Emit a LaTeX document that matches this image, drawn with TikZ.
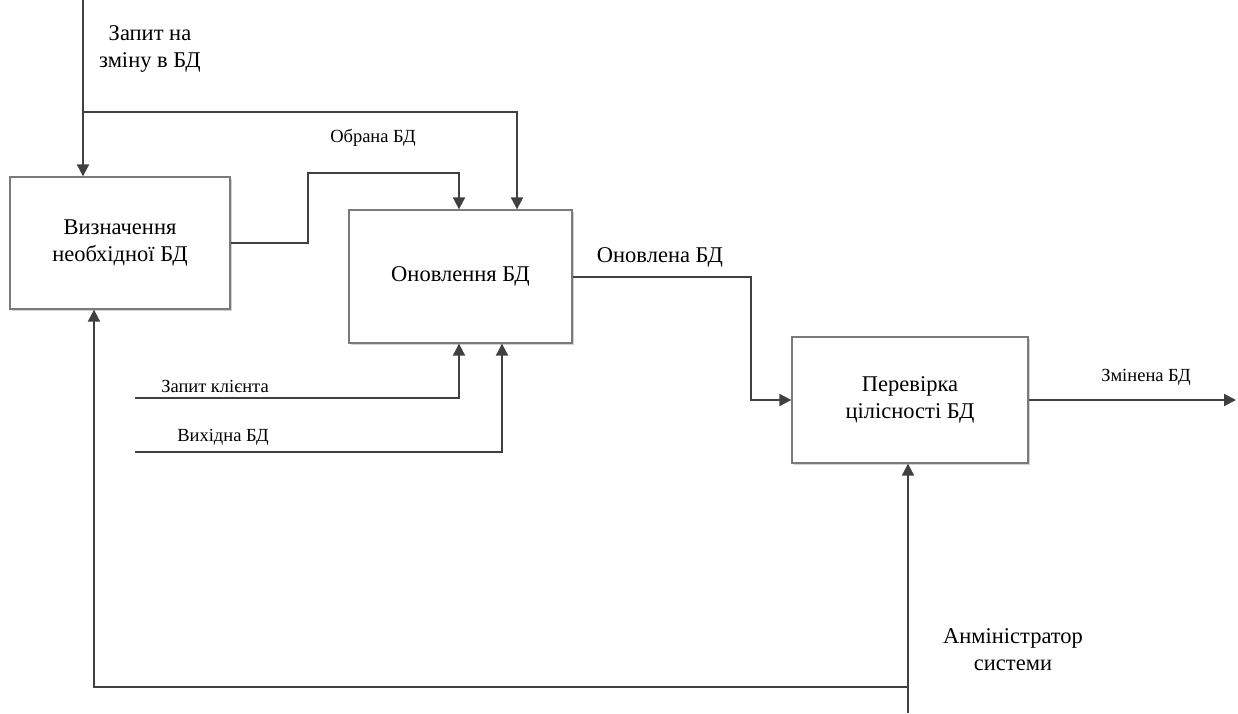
\documentclass[tikz,border=0pt]{standalone}
\usepackage{fontspec}
\setmainfont{Liberation Serif}
\usetikzlibrary{arrows.meta,shadows}
\definecolor{linec}{HTML}{404040}
\definecolor{boxc}{HTML}{7A7A7A}
\tikzset{
  procbox/.style={draw=boxc, line width=1.3pt, fill=white, minimum width=#1, align=center,
    font=\fontsize{22.5}{27}\selectfont,
    drop shadow={shadow xshift=2pt, shadow yshift=-2pt, fill=black!18, opacity=1}},
  flow/.style={draw=linec, line width=2pt, -{Triangle[length=12pt,width=12pt]}},
  biglabel/.style={align=center, font=\fontsize{22.5}{27}\selectfont},
  smalllabel/.style={font=\fontsize{18.5}{22}\selectfont},
}
\begin{document}
\begin{tikzpicture}[x=1pt,y=-1pt]
\useasboundingbox (0,0) rectangle (1238,713);

% activity boxes
\node[procbox=220pt, minimum height=132pt] (A) at (120,243) {Визначення\\необхідної БД};
\node[procbox=223pt, minimum height=133pt] (B) at (460.5,276.5) {Оновлення БД};
\node[procbox=236pt, minimum height=126pt] (C) at (910,400) {Перевірка\\цілісності БД};

% free ends and junctions
\coordinate (topIn) at (83,0);
\coordinate (split) at (83,112);
\coordinate (cliIn) at (135,398);
\coordinate (dbIn) at (135,452);
\coordinate (admIn) at (908,713);
\coordinate (admSplit) at (908,687);
\coordinate (outEnd) at (1236,400);

% control input from above
\draw[flow] (topIn) -- (topIn |- A.north);
\draw[flow] (split) -| ([xshift=56.5]B.north);

% selected database passed on
\draw[flow] (A.east) -| (308,173) -| ([xshift=-1.5]B.north);

% inputs from the left
\draw[flow] (cliIn) -| ([xshift=-1.5]B.south);
\draw[flow] (dbIn) -| ([xshift=41.5]B.south);

% updated database to integrity check
\draw[flow] (B.east) -| ([xshift=-40]C.west) -- (C.west);

% result
\draw[flow] (C.east) -- (outEnd);

% administrator as mechanism
\draw[flow] (admIn) -- (admIn |- C.south);
\draw[flow] (admSplit) -| ([xshift=-26]A.south);

% labels
\node[biglabel] (lTop) at (150,49) {Запит на\\зміну в БД};
\node[smalllabel] (lSel) at (373,138) {Обрана БД};
\node[biglabel] (lUpd) at (660,257) {Оновлена БД};
\node[smalllabel] (lCli) at (215,386) {Запит клієнта};
\node[smalllabel] (lSrc) at (223,437) {Вихідна БД};
\node[smalllabel] (lOut) at (1146,377) {Змінена БД};
\node[biglabel] (lAdm) at (1013,650) {Анміністратор\\системи};
\end{tikzpicture}
\end{document}
